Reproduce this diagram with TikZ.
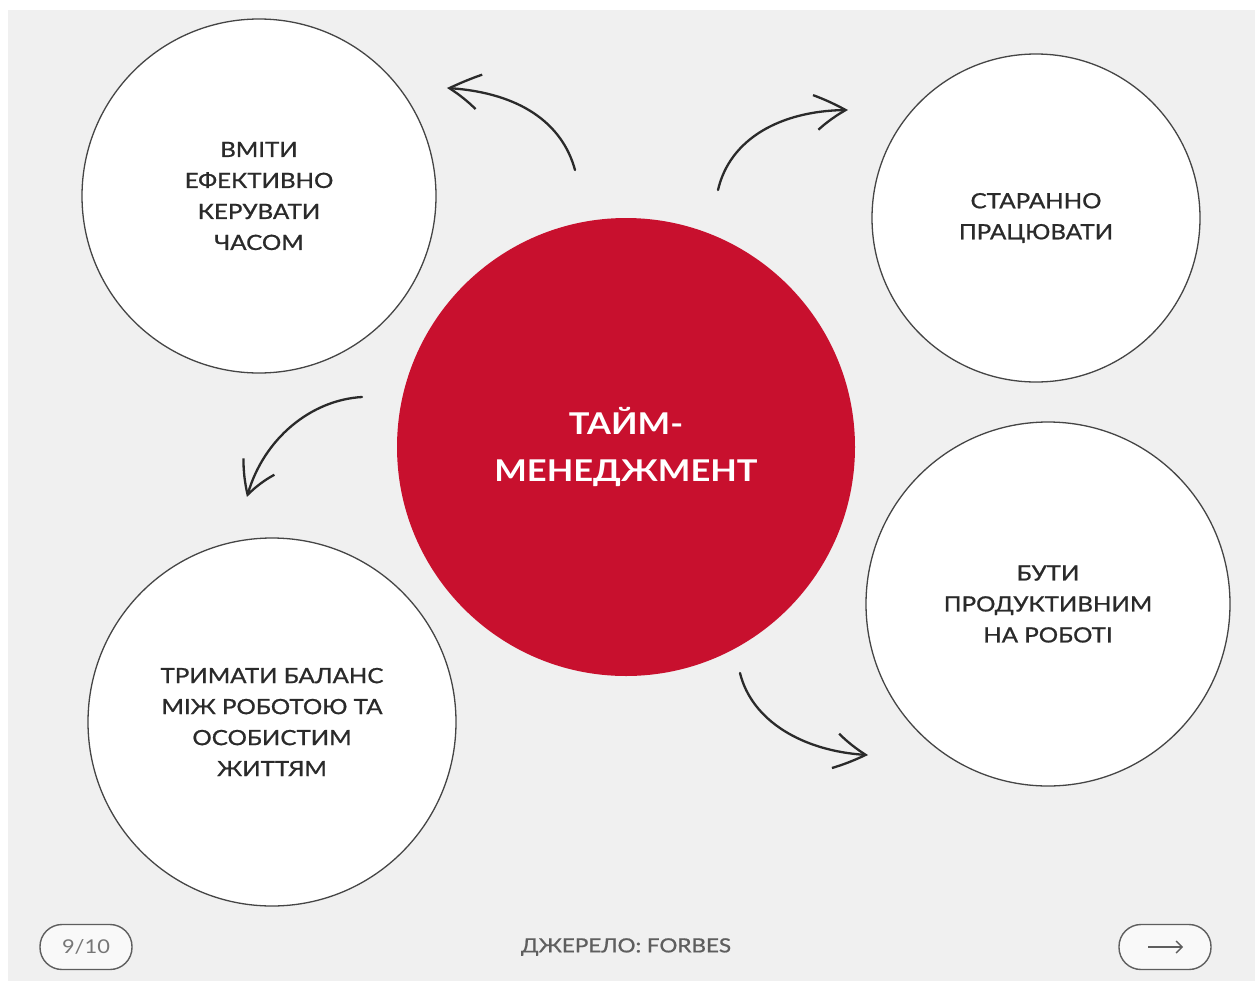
\documentclass[tikz,border=0pt]{standalone}
\usepackage{fontspec}
\setmainfont{Lato}[FakeStretch=1.15]
\newfontfamily\labelfont{Lato}[FakeStretch=1.15,FakeBold=0.9]
\usetikzlibrary{arrows.meta,bending}
\definecolor{bg}{HTML}{F0F0F0}
\definecolor{redc}{HTML}{C8102E}
\definecolor{ink}{HTML}{2A2A2A}
\definecolor{rim}{HTML}{454545}
\definecolor{soft}{HTML}{5E5E5E}
\begin{document}
\begin{tikzpicture}[x=1pt,y=-1pt,
  bubble/.style={circle,draw=rim,line width=1.3pt,fill=white,inner sep=0pt,
    minimum size=#1,align=center,text=ink,font=\labelfont\fontsize{21}{31}\selectfont},
  core/.style={circle,fill=redc,inner sep=0pt,minimum size=#1,align=center,
    text=white,font=\fontsize{30}{47}\selectfont\bfseries},
  flow/.style={draw=ink,line width=2.3pt,line cap=round,
    -{Straight Barb[bend,length=31pt,width=35pt,line width=2.3pt]}},
  pill/.style={draw=soft,line width=1.4pt,fill=white!60!bg,rounded corners=22pt,
    minimum width=92pt,minimum height=45pt,inner sep=0pt,text=soft!85,
    font=\fontsize{19}{22}\selectfont},
  caption/.style={text=soft,font=\labelfont\fontsize{19.5}{22}\selectfont}
]
\useasboundingbox (0,0) rectangle (1255,985);
\fill[white] (0,0) rectangle (1255,985);
\fill[bg] (8,10) rectangle (1255,981);

% bubbles
\node[bubble=354pt] (tl) at (259,196) {ВМІТИ\\ЕФЕКТИВНО\\КЕРУВАТИ\\ЧАСОМ};
\node[bubble=328pt] (tr) at (1036,218) {СТАРАННО\\ПРАЦЮВАТИ};
\node[bubble=364pt] (br) at (1048,604) {БУТИ\\ПРОДУКТИВНИМ\\НА РОБОТІ};
\node[bubble=368pt] (bl) at (272,722) {ТРИМАТИ БАЛАНС\\МІЖ РОБОТОЮ ТА\\ОСОБИСТИМ\\ЖИТТЯМ};
\node[core=458pt] (c) at (626,447) {ТАЙМ-\\МЕНЕДЖМЕНТ};

% arrow end points
\coordinate (a1s) at (575,170); \coordinate (a1e) at (447,88);
\coordinate (a2s) at (718,190); \coordinate (a2e) at (848,110);
\coordinate (a3s) at (362,397); \coordinate (a3e) at (247,497);
\coordinate (a4s) at (740,673); \coordinate (a4e) at (868,755);

\draw[flow] (a1s) .. controls (562,122) and (518,92) .. (a1e);
\draw[flow] (a2s) .. controls (730,138) and (782,110) .. (a2e);
\draw[flow] (a3s) .. controls (310,400) and (262,440) .. (a3e);
\draw[flow] (a4s) .. controls (752,722) and (805,752) .. (a4e);

% footer
\node[pill] (pg) at (86,947) {9/10};
\node[pill] (nx) at (1165,947) {};
\coordinate (nxa) at ([xshift=-17pt]nx.center);
\coordinate (nxb) at ([xshift=18pt]nx.center);
\draw[draw=soft,line width=1.4pt,-{Straight Barb[length=6pt,width=12pt,line width=1.4pt]}] (nxa) -- (nxb);
\node[caption] (src) at (626,947) {ДЖЕРЕЛО: FORBES};
\end{tikzpicture}
\end{document}
